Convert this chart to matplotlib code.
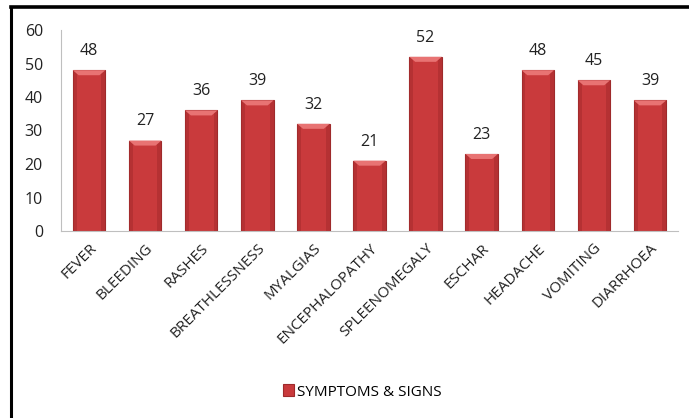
import matplotlib.pyplot as plt
import numpy as np
from matplotlib.patches import Rectangle, Polygon
from matplotlib.lines import Line2D

## Données

categories = ['FEVER', 'BLEEDING', 'RASHES', 'BREATHLESSNESS', 'MYALGIAS',
              'ENCEPHALOPATHY', 'SPLEENOMEGALY', 'ESCHAR', 'HEADACHE',
              'VOMITING', 'DIARRHOEA']
valeurs = [48, 27, 36, 39, 32, 21, 52, 23, 48, 45, 39]
yticks = [0, 10, 20, 30, 40, 50, 60]
serie = 'SYMPTOMS & SIGNS'

plt.rcParams['font.family'] = ['Open Sans', 'DejaVu Sans']

fig = plt.figure(figsize=(6.89, 4.18), dpi=100)
ax = fig.add_axes([61/689, 1 - 231/418, 617/689, 201/418])

x = np.arange(len(categories))
largeur = 0.58
bars = ax.bar(x, valeurs, width=largeur, color='#C93A3C', edgecolor='#9E2A2B',
              linewidth=0.8, label=serie, zorder=2)

# petit effet biseau en haut et sur les côtés de chaque barre
for b in bars:
    x0, w, h = b.get_x(), b.get_width(), b.get_height()
    ax.add_patch(Rectangle((x0, 0), w * 0.12, h, facecolor='#A82C2E',
                           edgecolor='none', zorder=3, alpha=0.6))
    ax.add_patch(Rectangle((x0 + w * 0.88, 0), w * 0.12, h, facecolor='#A82C2E',
                           edgecolor='none', zorder=3, alpha=0.6))
    ax.add_patch(Polygon([(x0, h), (x0 + w, h), (x0 + w * 0.82, h - 1.5), (x0 + w * 0.18, h - 1.5)],
                         closed=True, facecolor='#E87373', edgecolor='none', zorder=4))

for xi, v in zip(x, valeurs):
    ax.text(xi, v + 3.3, str(v), ha='center', va='bottom', fontsize=11.5, color='#222222')

ax.set_xlim(-0.5, len(categories) - 0.5)
ax.set_ylim(0, 60)
ax.set_yticks(yticks)
ax.set_yticklabels([str(t) for t in yticks], fontsize=11.5, color='#222222')
ax.set_xticks(x)
ax.set_xticklabels(categories, rotation=45, ha='right', rotation_mode='anchor',
                   fontsize=11, color='#222222')
ax.tick_params(axis='x', length=0, pad=7)
ax.tick_params(axis='y', length=0, pad=13)

for s in ['top', 'right']:
    ax.spines[s].set_visible(False)
ax.spines['left'].set_color('#BFBFBF')
ax.spines['bottom'].set_color('#BFBFBF')

leg = fig.legend(loc='center', bbox_to_anchor=(362/689, 1 - 392/418), frameon=False,
                 fontsize=11, handlelength=0.7, handleheight=0.8, handletextpad=0.2)

# cadre noir (gauche et haut)
fig.add_artist(Line2D([11/689, 11/689], [0, 1 - 7/418], color='black', linewidth=2.2,
                      transform=fig.transFigure))
fig.add_artist(Line2D([11/689, 1], [1 - 7/418, 1 - 7/418], color='black', linewidth=2.6,
                      transform=fig.transFigure))

fig.savefig('out.png', dpi=100)
